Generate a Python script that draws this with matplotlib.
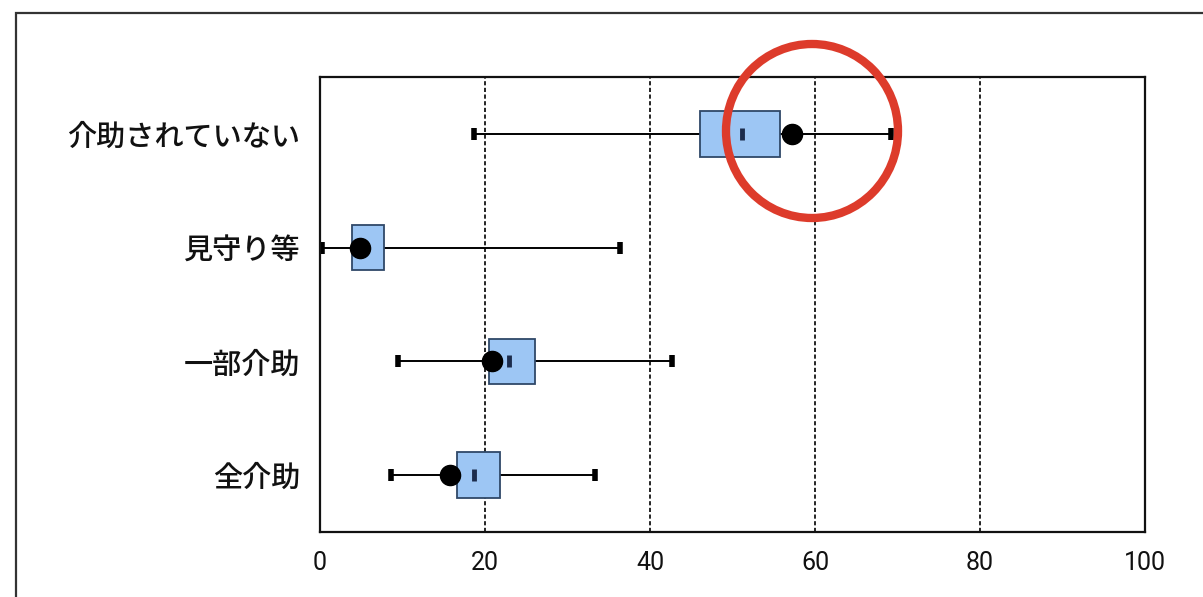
import matplotlib
matplotlib.use("Agg")
import matplotlib.pyplot as plt
from matplotlib.patches import Ellipse, Rectangle

# data (percent)
categories = ["介助されていない", "見守り等", "一部介助", "全介助"]
whisker_low = [18.7, 0.3, 9.4, 8.6]
q1 = [46.0, 3.9, 20.5, 16.6]
median = [51.1, 5.0, 22.9, 18.7]
q3 = [55.8, 7.7, 26.1, 21.8]
whisker_high = [69.2, 36.4, 42.7, 33.3]
point = [57.2, 4.8, 20.8, 15.8]
xticks = [0, 20, 40, 60, 80, 100]

plt.rcParams['font.family'] = ['Noto Sans CJK JP', 'DejaVu Sans']

fig = plt.figure(figsize=(12.03, 5.97), dpi=100)
ax = fig.add_axes([320 / 1203, 65 / 597, 825 / 1203, 455 / 597])

pos = list(range(len(categories)))

ax.hlines(pos, whisker_low, whisker_high, color='black', lw=1.4, zorder=2)
ax.plot(whisker_low, pos, ls='none', marker='|', ms=8, mew=4, color='black', zorder=2)
ax.plot(whisker_high, pos, ls='none', marker='|', ms=8, mew=4, color='black', zorder=2)

widths = [b - a for a, b in zip(q1, q3)]
ax.barh(pos, widths, left=q1, height=0.4, color='#9dc6f4',
        edgecolor='#2f4868', lw=1.3, zorder=3)
ax.plot(median, pos, ls='none', marker='|', ms=8, mew=3.5, color='#1c2c4c', zorder=4)
ax.plot(point, pos, ls='none', marker='o', ms=14.5, color='black', zorder=5)

ax.set_xlim(0, 100)
ax.set_ylim(3.5, -0.5)
ax.set_xticks(xticks)
ax.set_xticklabels([str(v) for v in xticks], family=['Roboto', 'DejaVu Sans'],
                   fontsize=18)
ax.set_yticks(pos)
ax.set_yticklabels(categories, fontsize=21, weight='medium')
ax.tick_params(axis='both', length=0, colors='#111111')
ax.tick_params(axis='x', pad=14)
ax.tick_params(axis='y', pad=14)

for v in xticks[1:-1]:
    ax.axvline(v, color='black', lw=1.2, ls=(0, (2.5, 1.5)), zorder=1)

for s in ax.spines.values():
    s.set_linewidth(1.6)
    s.set_color('#111111')

# outer frame of the screenshot
fig.add_artist(Rectangle((16 / 1203, -0.05), 1.1, 1 - 13 / 597 + 0.05,
                         transform=fig.transFigure, fill=False,
                         edgecolor='#333333', lw=1.6, zorder=0))

# red hand-drawn highlight circle
fig.add_artist(Ellipse((812 / 1203, 1 - 131 / 597), 172 / 1203, 174 / 597,
                       transform=fig.transFigure, fill=False,
                       edgecolor='#dd3b2b', lw=6, zorder=10))

fig.savefig("out.png", dpi=100)
